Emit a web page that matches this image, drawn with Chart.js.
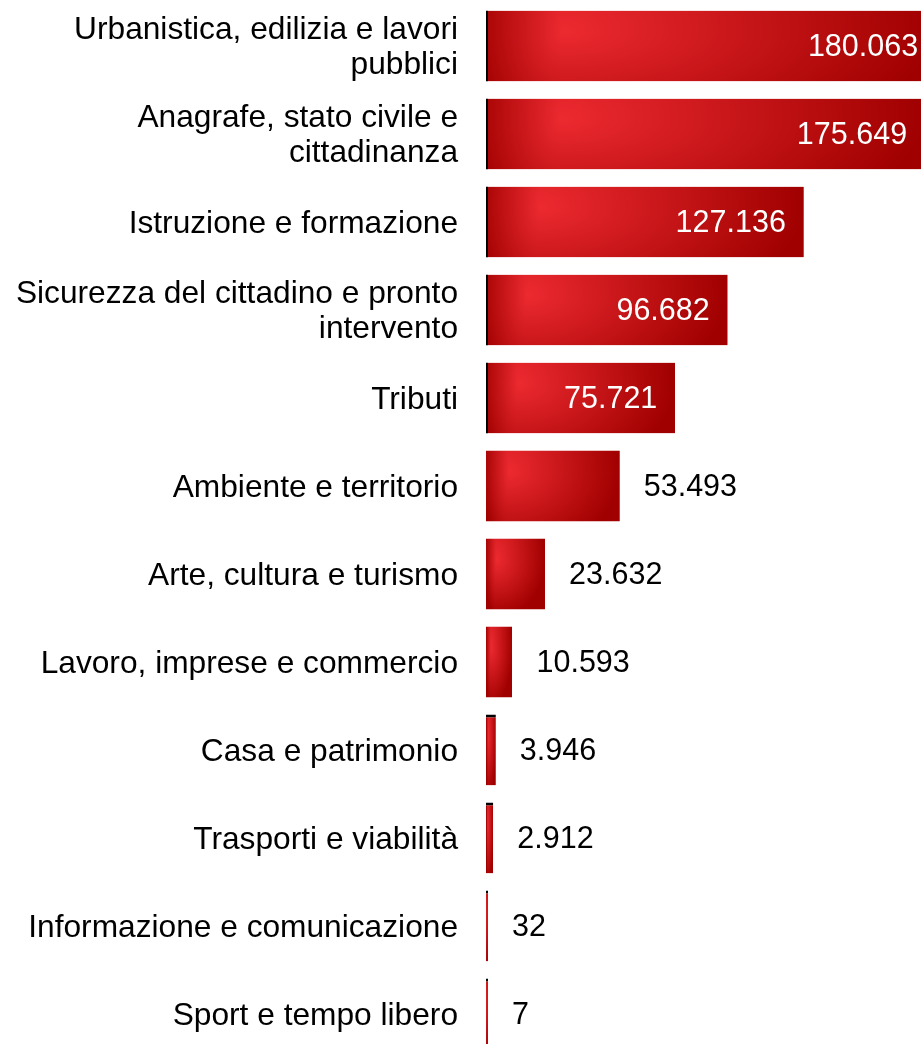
<!DOCTYPE html>
<html>
<head>
<meta charset="utf-8">
<script src="https://cdn.jsdelivr.net/npm/chart.js@4.4.1/dist/chart.umd.min.js"></script>
<style>
  html, body { margin: 0; padding: 0; overflow: hidden; background: #fff; }
  #wrap { position: relative; width: 961px; height: 1060px; }
</style>
</head>
<body>
<div id="wrap"><canvas id="barChart"></canvas></div>
<script>
const categories = [
  ['Urbanistica, edilizia e lavori', 'pubblici'],
  ['Anagrafe, stato civile e', 'cittadinanza'],
  'Istruzione e formazione',
  ['Sicurezza del cittadino e pronto', 'intervento'],
  'Tributi',
  'Ambiente e territorio',
  'Arte, cultura e turismo',
  'Lavoro, imprese e commercio',
  'Casa e patrimonio',
  'Trasporti e viabilità',
  'Informazione e comunicazione',
  'Sport e tempo libero'
];
const values = [180063, 175649, 127136, 96682, 75721, 53493, 23632, 10593, 3946, 2912, 32, 7];
const axisMax = 190000;
const insideThreshold = 60000;
const barFraction = 0.807;

const bright = [236, 42, 48];
const dark = [160, 0, 0];

function formatIt(v) {
  return String(v).replace(/\B(?=(\d{3})+(?!\d))/g, '.');
}

// shaded fill like the original (light spot near the top-left, darker edges)
function shadePattern(ctx, x0, y0, w, h) {
  w = Math.max(Math.round(w), 1);
  h = Math.max(Math.round(h), 1);
  const off = document.createElement('canvas');
  off.width = w; off.height = h;
  const octx = off.getContext('2d');
  const img = octx.createImageData(w, h);
  const cx = w * 0.17, cy = h * 0.3;
  const vw = 0.3 + 0.55 * (h / Math.max(w, h));
  for (let y = 0; y < h; y++) {
    const ty = y < cy ? (cy - y) / cy * 0.25 * vw : (y - cy) / (h - cy) * vw;
    for (let x = 0; x < w; x++) {
      const tx = x < cx ? (cx - x) / Math.max(cx, 1) * 0.85 : (x - cx) / Math.max(w - cx, 1);
      const t = Math.min(1, Math.sqrt(tx * tx + ty * ty));
      const i = (y * w + x) * 4;
      img.data[i] = bright[0] + (dark[0] - bright[0]) * t;
      img.data[i + 1] = bright[1] + (dark[1] - bright[1]) * t;
      img.data[i + 2] = bright[2] + (dark[2] - bright[2]) * t;
      img.data[i + 3] = 255;
    }
  }
  octx.putImageData(img, 0, 0);
  const pat = ctx.createPattern(off, 'no-repeat');
  pat.setTransform(new DOMMatrix().translate(x0, y0));
  return pat;
}

function barFill(c) {
  const chart = c.chart;
  const scales = chart.scales;
  if (!chart.chartArea || !scales.x || !scales.y) return '#c8141a';
  const x0 = scales.x.getPixelForValue(0);
  const x1 = Math.max(scales.x.getPixelForValue(c.raw), x0 + 2);
  const step = Math.abs(scales.y.getPixelForValue(1) - scales.y.getPixelForValue(0));
  const h = step * barFraction;
  const y0 = scales.y.getPixelForValue(c.dataIndex) - h / 2;
  return shadePattern(chart.ctx, x0, y0, x1 - x0, h);
}

const valueLabels = {
  id: 'valueLabels',
  afterDatasetsDraw(chart) {
    const ctx = chart.ctx;
    const meta = chart.getDatasetMeta(0);
    ctx.save();
    ctx.font = '30.5px "Liberation Sans", Arial, sans-serif';
    ctx.textBaseline = 'middle';
    meta.data.forEach((bar, i) => {
      const v = values[i];
      const txt = formatIt(v);
      if (v > insideThreshold) {
        ctx.fillStyle = '#ffffff';
        ctx.textAlign = 'right';
        ctx.fillText(txt, bar.x - 18, bar.y + 2);
      } else {
        ctx.fillStyle = '#000000';
        ctx.textAlign = 'left';
        ctx.fillText(txt, bar.x + 24, bar.y + 2);
      }
    });
    ctx.restore();
  }
};

new Chart(document.getElementById('barChart'), {
  type: 'bar',
  data: {
    labels: categories,
    datasets: [{
      data: values,
      backgroundColor: barFill,
      borderColor: '#000000',
      borderSkipped: false,
      borderWidth: function(c) {
        const v = values[c.dataIndex];
        if (v > insideThreshold) return { left: 2, top: 0, right: 0, bottom: 0 };
        if (v < 5000) return { left: 0, top: 3, right: 0, bottom: 0 };
        return 0;
      },
      minBarLength: 2,
      barPercentage: 1,
      categoryPercentage: barFraction
    }]
  },
  plugins: [valueLabels],
  options: {
    indexAxis: 'y',
    responsive: true,
    maintainAspectRatio: false,
    animation: false,
    layout: { padding: { top: 2, bottom: 2, left: 0, right: 0 } },
    scales: {
      x: {
        display: false,
        min: 0,
        max: axisMax
      },
      y: {
        grid: { display: false, drawTicks: false },
        border: { display: false },
        ticks: {
          color: '#000000',
          padding: 28,
          labelOffset: 2,
          autoSkip: false,
          font: { family: '"Liberation Sans", Arial, sans-serif', size: 31.7, lineHeight: 1.1 }
        },
        afterFit: function(scale) {
          scale.width = 486;
          scale.paddingTop = 0;
          scale.paddingBottom = 0;
        }
      }
    },
    plugins: {
      legend: { display: false },
      tooltip: { enabled: false }
    }
  }
});
</script>
</body>
</html>
